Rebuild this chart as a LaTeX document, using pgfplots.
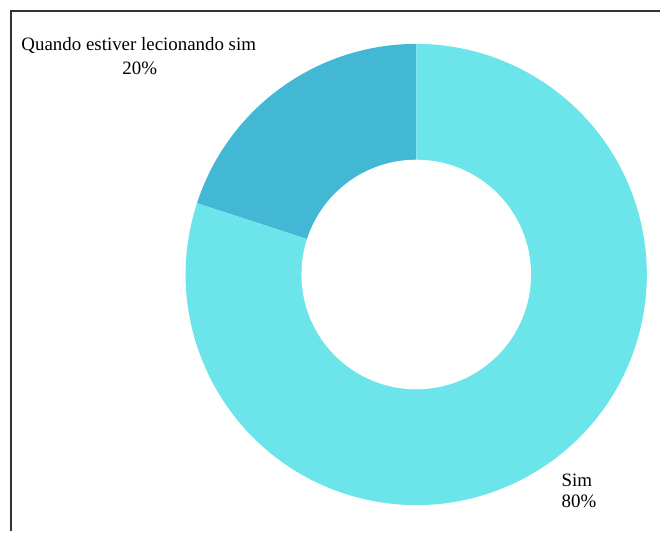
\documentclass[border=0pt]{standalone}
\usepackage{pgfplots}
\pgfplotsset{compat=1.18}
\usepackage{pgfplotstable}
\usepackage{fontspec}
\setmainfont{Liberation Serif}
\definecolor{light}{RGB}{107,229,233}
\definecolor{dark}{RGB}{66,184,213}
\definecolor{frame}{RGB}{51,51,51}
\pgfplotstableread{
label value
Quando 20
Sim 80
}\piedata
\begin{document}
\begin{tikzpicture}
\pgfplotstablegetelem{0}{value}\of\piedata \let\va\pgfplotsretval
\pgfplotstablegetelem{1}{value}\of\piedata \let\vb\pgfplotsretval
\pgfmathsetmacro\aA{90}
\pgfmathsetmacro\aB{90+3.6*\va}
\pgfmathsetmacro\aC{\aB+3.6*\vb}
\begin{axis}[x=1bp,y=1bp,xmin=0,xmax=661,ymin=0,ymax=532,hide axis,clip=false,scale only axis]
\path (axis cs:0,0) rectangle (axis cs:661,532);
\fill[dark] (axis cs:417,257) -- ++(\aA:231bp) arc[start angle=\aA,end angle=\aB,radius=231bp] -- cycle;
\fill[light] (axis cs:417,257) -- ++(\aB:231bp) arc[start angle=\aB,end angle=\aC,radius=231bp] -- cycle;
\fill[white] (axis cs:417,257) circle[radius=115bp];
\draw[frame,line width=2bp] (axis cs:11,0) -- (axis cs:11,521) -- (axis cs:661,521);
\begin{scope}[every node/.style={font=\fontsize{19}{23}\selectfont,anchor=base,inner sep=0pt}]
\node at (axis cs:139,481) {Quando estiver lecionando sim};
\node at (axis cs:140,457) {20\%};
\node at (axis cs:578,45) {Sim};
\node at (axis cs:580,24) {80\%};
\end{scope}
\end{axis}
\end{tikzpicture}
\end{document}
